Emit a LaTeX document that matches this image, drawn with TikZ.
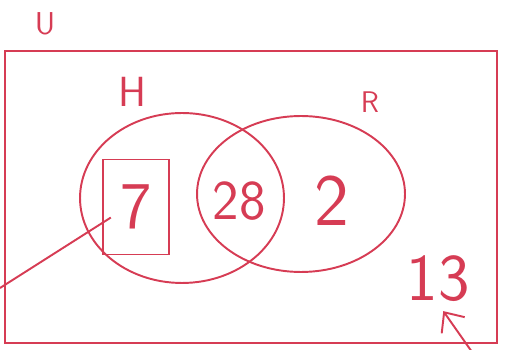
\documentclass[tikz,border=0pt]{standalone}
\usepackage{xcolor}
\usetikzlibrary{arrows.meta,calc,positioning,shapes.geometric}
\definecolor{pen}{RGB}{214,60,84}

\begin{document}
\begin{tikzpicture}[x=0.02cm,y=-0.02cm,font=\sffamily,ink/.style={draw=pen,line width=1.1pt},set/.style={ellipse,ink,minimum width=#1},num/.style={text=pen,font=\sffamily\fontsize{#1}{#1}\selectfont,inner sep=1pt},arrow/.style={-{Straight Barb[length=9pt,width=16pt]},ink}]
\useasboundingbox (0,0) rectangle (506,350);
\node[ink,minimum width=9.86cm,minimum height=5.84cm] (universe) at (251,197) {};
\node[set=4.08cm,minimum height=3.4cm] (setH) at (182,198) {};
\node[set=4.16cm,minimum height=3.12cm] (setR) at (301,194) {};
\node[num=18] (lblU) at (45,24) {U};
\node[num=24] (lblH) at (132,92) {H};
\node[num=17] (lblR) at (370,102) {R};
\node[num=38,ink,minimum width=1.32cm,minimum height=1.9cm] (numSeven) at (136,207) {7};
\node[num=32] (numBoth) at (239,201) {28};
\node[num=42,right=0.9cm of numBoth] (numTwo) {2};
\node[num=38] (numOut) at (438,279) {13};
\coordinate (tail) at (0,288);
\coordinate (arrowTail) at (472,352);
\draw[ink] ([xshift=5pt,yshift=-6pt]numSeven.west) -- (tail);
\draw[arrow] (arrowTail) -- ([xshift=3pt,yshift=-4pt]numOut.south);
\end{tikzpicture}
\end{document}
